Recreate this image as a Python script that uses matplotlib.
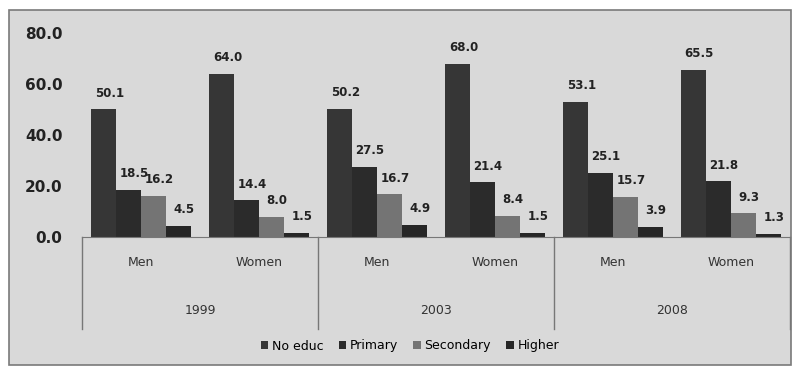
import matplotlib
matplotlib.use("Agg")
from matplotlib import pyplot as plt
from matplotlib.patches import Rectangle
import numpy as np

years = ["1999", "2003", "2008"]
sexes = ["Men", "Women"]
levels = ["No educ", "Primary", "Secondary", "Higher"]

no_educ = [50.1, 64.0, 50.2, 68.0, 53.1, 65.5]
primary = [18.5, 14.4, 27.5, 21.4, 25.1, 21.8]
secondary = [16.2, 8.0, 16.7, 8.4, 15.7, 9.3]
higher = [4.5, 1.5, 4.9, 1.5, 3.9, 1.3]

yticks = [0, 20, 40, 60, 80]

series = [no_educ, primary, secondary, higher]
colors = ["#363636", "#2b2b2b", "#747474", "#262626"]
bg = "#d9d9d9"

fig = plt.figure(figsize=(7.92, 3.72), dpi=100)
fig.patch.set_facecolor("white")

# outer chart frame
fig.patches.append(Rectangle((9 / 792, 1 - 365 / 372), 782 / 792, 355 / 372,
                             transform=fig.transFigure, facecolor=bg,
                             edgecolor="#7a7a7a", linewidth=1.2, zorder=-10))

ax = fig.add_axes([82 / 792, 1 - 237 / 372, 708 / 792, 204 / 372])
ax.set_facecolor("none")

n = len(no_educ)
x = np.arange(n)
width = 0.21
for i, (vals, col) in enumerate(zip(series, colors)):
    pos = x + (i - 1.5) * width
    ax.bar(pos, vals, width, color=col, label=levels[i], zorder=2)
    for p, v in zip(pos, vals):
        ax.annotate("%.1f" % v, (p, v), xytext=(4, 7), textcoords="offset points",
                    ha="center", va="bottom", fontsize=8.5, fontweight="bold",
                    color="#222222")

ax.set_xlim(-0.5, n - 0.5)
ax.set_ylim(0, 80)
ax.set_yticks(yticks)
ax.set_yticklabels(["%.1f" % t for t in yticks], fontsize=11, fontweight="bold",
                   color="#222222")
ax.tick_params(axis="y", length=0, pad=14)
ax.set_xticks([])
for s in ["top", "right", "left"]:
    ax.spines[s].set_visible(False)
ax.spines["bottom"].set_color("#777777")

# two-level category axis
for k in range(len(years) + 1):
    xs = -0.5 + 2 * k
    ax.plot([xs, xs], [0, -36], color="#777777", lw=1, clip_on=False,
            transform=ax.transData)
for j in range(n):
    ax.text(j, -10, sexes[j % 2], ha="center", va="center", fontsize=9,
            color="#333333")
for k, yr in enumerate(years):
    ax.text(2 * k + 0.5, -29, yr, ha="center", va="center", fontsize=9,
            color="#333333")

fig.legend(loc="center", bbox_to_anchor=(410 / 792, 1 - 346 / 372), ncol=4,
           frameon=False, fontsize=9, handlelength=0.6, handleheight=0.6,
           handletextpad=0.3, columnspacing=1.2)

fig.savefig("out.png", dpi=100, facecolor=fig.get_facecolor())
